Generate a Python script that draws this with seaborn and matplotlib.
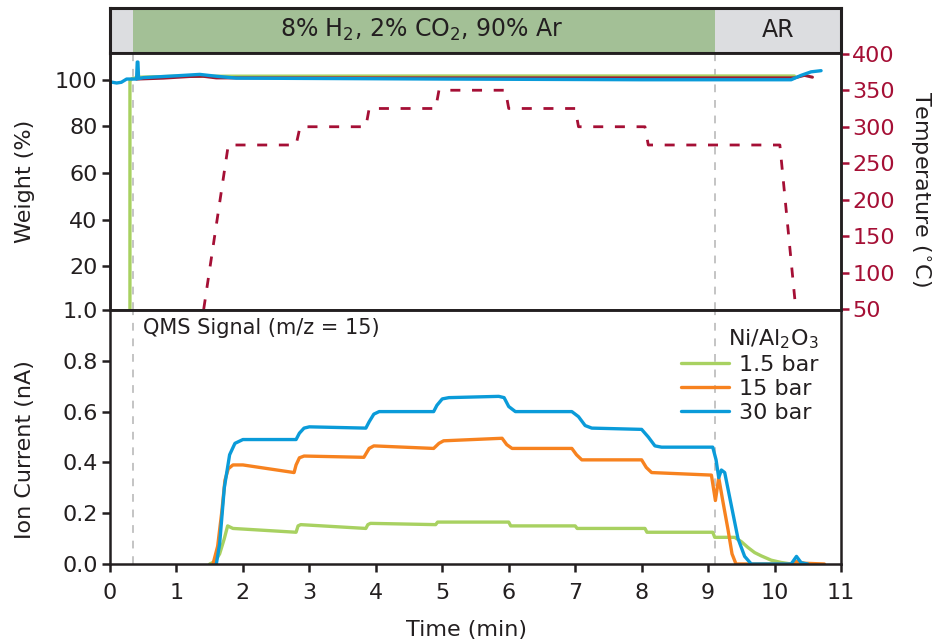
import numpy as np
import pandas as pd
import matplotlib
matplotlib.use("Agg")
import matplotlib.pyplot as plt
import seaborn as sns

# ---- data ----
# QMS ion current, m/z = 15
t_30 = [1.6, 1.65, 1.72, 1.8, 1.88, 2.0, 2.8, 2.85, 2.92, 3.0, 3.85, 3.9, 3.97, 4.05, 4.87, 4.92, 5.0, 5.1,
        5.85, 5.93, 6.0, 6.1, 6.95, 7.05, 7.15, 7.25, 8.0, 8.1, 8.2, 8.3, 9.07, 9.12, 9.16, 9.2, 9.25,
        9.35, 9.45, 9.55, 9.65, 10.25, 10.33, 10.4, 10.5]
i_30 = [0.0, 0.08, 0.3, 0.43, 0.475, 0.49, 0.49, 0.515, 0.535, 0.54, 0.535, 0.56, 0.59, 0.6, 0.6, 0.625, 0.65, 0.655,
        0.66, 0.655, 0.62, 0.6, 0.6, 0.58, 0.545, 0.535, 0.53, 0.5, 0.465, 0.46, 0.46, 0.41, 0.34, 0.37, 0.36,
        0.23, 0.1, 0.03, 0.0, 0.0, 0.03, 0.005, 0.0]
t_15 = [1.55, 1.62, 1.68, 1.73, 1.78, 1.85, 2.0, 2.77, 2.8, 2.85, 2.92, 3.82, 3.9, 3.97, 4.87, 4.95, 5.02,
        5.9, 5.97, 6.05, 6.95, 7.02, 7.1, 8.0, 8.07, 8.15, 9.05, 9.08, 9.11, 9.16, 9.22, 9.3, 9.36, 9.42,
        10.25, 10.33, 10.45, 10.75]
i_15 = [0.0, 0.07, 0.2, 0.33, 0.375, 0.39, 0.39, 0.36, 0.39, 0.418, 0.425, 0.42, 0.455, 0.465, 0.455, 0.475, 0.485,
        0.495, 0.47, 0.455, 0.455, 0.43, 0.41, 0.41, 0.38, 0.36, 0.35, 0.3, 0.25, 0.34, 0.25, 0.135, 0.04, 0.0,
        0.0, 0.01, 0.003, 0.0]
t_1p5 = [1.5, 1.58, 1.65, 1.72, 1.77, 1.85, 2.8, 2.83, 2.87, 3.85, 3.88, 3.92, 4.9, 4.93, 6.0, 6.03, 7.0, 7.03,
         8.05, 8.08, 9.07, 9.1, 9.4, 9.5, 9.6, 9.7, 9.8, 9.95, 10.1, 10.25, 10.5]
i_1p5 = [0.0, 0.01, 0.04, 0.1, 0.15, 0.14, 0.125, 0.15, 0.155, 0.14, 0.155, 0.16, 0.155, 0.165, 0.165, 0.15, 0.15, 0.14,
         0.14, 0.125, 0.125, 0.105, 0.105, 0.088, 0.065, 0.045, 0.032, 0.015, 0.006, 0.0, 0.0]

# TGA weight (%)
tw_green = [0.3, 0.3, 0.33, 0.45, 1.0, 5.0, 10.3]
w_green = [0.0, 99.6, 100.6, 101.2, 101.6, 101.7, 101.7]
tw_red = [0.4, 0.8, 1.2, 1.4, 1.6, 2.0, 10.3, 10.45, 10.57]
w_red = [100.4, 100.8, 101.5, 101.6, 100.9, 100.9, 100.9, 102.0, 101.2]
tw_blue = [0.0, 0.1, 0.17, 0.25, 0.4, 0.41, 0.42, 0.43, 0.5, 1.0, 1.35, 1.6, 1.9, 5.0, 8.0, 10.25, 10.4, 10.55, 10.7]
w_blue = [99.2, 98.7, 99.0, 100.4, 100.4, 107.7, 107.7, 100.6, 101.0, 101.8, 102.4, 101.6, 100.8, 100.4, 100.1,
          100.1, 102.0, 103.5, 104.0]

# temperature program (deg C)
t_temp = [1.41, 1.78, 2.8, 2.86, 3.85, 3.9, 4.9, 4.95, 5.95, 6.0, 7.0, 7.05, 8.05, 8.1, 10.08, 10.32]
temp = [50, 275, 275, 300, 300, 325, 325, 350, 350, 325, 325, 300, 300, 275, 275, 50]

gas_switch = [0.35, 9.1]
header_labels = ["8% H$_2$, 2% CO$_2$, 90% Ar", "AR"]
series = ["1.5 bar", "15 bar", "30 bar"]

# ---- style ----
sns.set_style("ticks")
plt.rcParams["font.family"] = ["DejaVu Sans"]
ink = "#231f20"
c_green, c_orange, c_blue = "#a8d161", "#f7821f", "#0a9bd9"
c_temp, c_wred = "#a50f35", "#9e1b32"
c_dash = "#c4c4c4"
fs = 16

fig = plt.figure(figsize=(9.36, 6.44), dpi=100)
L, W = 110 / 936, 731 / 936
ax_h = fig.add_axes([L, 1 - 53 / 644, W, 45 / 644])
ax_w = fig.add_axes([L, 1 - 310 / 644, W, 257 / 644])
ax_i = fig.add_axes([L, 1 - 564 / 644, W, 254 / 644])
ax_t = ax_w.twinx()

# header band
ax_h.axvspan(0, gas_switch[0], color="#dcdde0", lw=0)
ax_h.axvspan(gas_switch[0], gas_switch[1], color="#a3c096", lw=0)
ax_h.axvspan(gas_switch[1], 11, color="#dcdde0", lw=0)
ax_h.set_xlim(0, 11)
ax_h.set_ylim(0, 1)
ax_h.set_xticks([])
ax_h.set_yticks([])
for s in ax_h.spines.values():
    s.set_linewidth(2.2)
    s.set_color(ink)
ax_h.text(4.7, 0.52, header_labels[0], ha="center", va="center", fontsize=17, color=ink)
ax_h.text(10.05, 0.52, header_labels[1], ha="center", va="center", fontsize=17, color=ink)

# dashed gas-switch markers
for ax in (ax_h, ax_w, ax_i):
    for xv in gas_switch:
        ax.axvline(xv, color=c_dash, lw=1.4, ls=(0, (4, 4)), zorder=0.5)

# weight panel
def line(ax, x, y, color, lw, label=None):
    df = pd.DataFrame({"x": x, "y": y})
    sns.lineplot(data=df, x="x", y="y", ax=ax, color=color, linewidth=lw,
                 estimator=None, sort=False, label=label, legend=False)

line(ax_w, tw_green, w_green, c_green, 2.4)
line(ax_w, tw_red, w_red, c_wred, 2.2)
line(ax_w, tw_blue, w_blue, c_blue, 2.4)
ax_w.set_xlim(0, 11)
ax_w.set_ylim(1.1, 111.6)
ax_w.set_yticks([20, 40, 60, 80, 100])
ax_w.set_xticks([])
ax_w.set_xlabel("")
ax_w.set_ylabel("")

line(ax_t, t_temp, temp, c_temp, 2.0)
ax_t.lines[-1].set_dashes((3.6, 4.2))
ax_t.set_ylim(49, 401)
ax_t.set_yticks([50, 100, 150, 200, 250, 300, 350, 400])
ax_t.set_ylabel("")
ax_t.tick_params(axis="y", colors=c_temp, labelsize=fs, length=6, width=1.8, pad=2)
ax_t.spines["right"].set_color(ink)

# ion current panel
line(ax_i, t_1p5, i_1p5, c_green, 2.4, series[0])
line(ax_i, t_15, i_15, c_orange, 2.4, series[1])
line(ax_i, t_30, i_30, c_blue, 2.4, series[2])
ax_i.set_xlim(0, 11)
ax_i.set_ylim(0, 1.0)
ax_i.set_xticks(range(0, 12))
ax_i.set_yticks([0, 0.2, 0.4, 0.6, 0.8, 1.0])
ax_i.set_yticklabels(["%.1f" % v for v in [0, 0.2, 0.4, 0.6, 0.8, 1.0]])
ax_i.set_xlabel("")
ax_i.set_ylabel("")
ax_i.text(0.045, 0.97, "QMS Signal (m/z = 15)", transform=ax_i.transAxes,
          ha="left", va="top", fontsize=15, color=ink)
leg = ax_i.legend(loc="upper right", bbox_to_anchor=(0.985, 0.975), frameon=False,
                  title="Ni/Al$_2$O$_3$", fontsize=fs, title_fontsize=fs, alignment="right",
                  handlelength=2.2, handletextpad=0.45, labelspacing=0.18, borderpad=0)
for t in leg.get_texts():
    t.set_color(ink)
leg.get_title().set_color(ink)

for ax in (ax_w, ax_t, ax_i):
    for s in ax.spines.values():
        s.set_linewidth(1.8)
        s.set_color(ink)
    ax.spines["top"].set_visible(True)
    ax.spines["right"].set_visible(True)
for ax in (ax_w, ax_i):
    ax.tick_params(colors=ink, labelsize=fs, length=6, width=1.8, direction="out", pad=3)
    ax.tick_params(axis="y", right=False)
ax_i.tick_params(axis="x", pad=8)

# axis titles
fig.text(25 / 936, 1 - 181 / 644, "Weight (%)", rotation=90, ha="center", va="center", fontsize=fs, color=ink)
fig.text(25 / 936, 1 - 450 / 644, "Ion Current (nA)", rotation=90, ha="center", va="center", fontsize=fs, color=ink)
fig.text(920 / 936, 1 - 189 / 644, "Temperature ($^{\\circ}$C)", rotation=270, ha="center", va="center",
         fontsize=fs, color=ink)
fig.text(466 / 936, 1 - 630 / 644, "Time (min)", ha="center", va="center", fontsize=fs, color=ink)

fig.savefig("out.png", dpi=100)
